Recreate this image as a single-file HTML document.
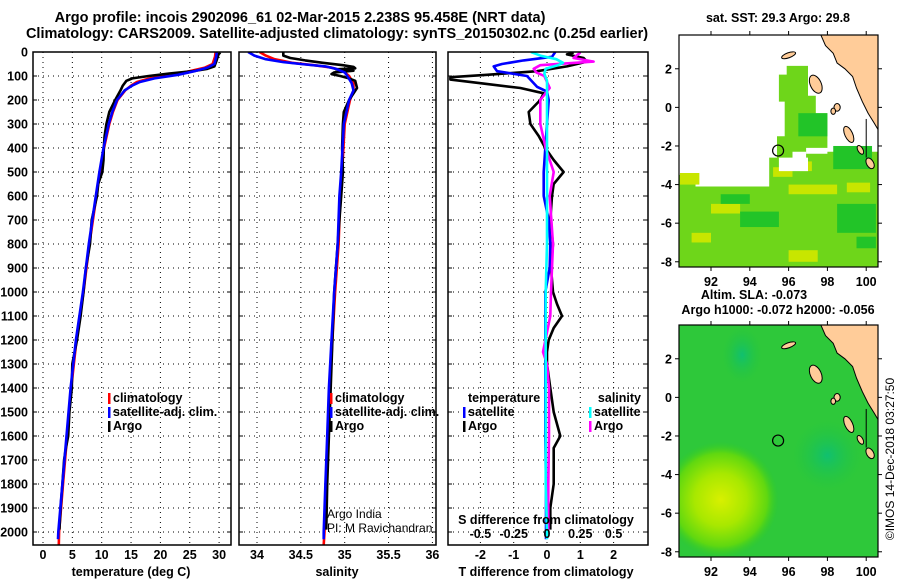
<!DOCTYPE html>
<html><head><meta charset="utf-8">
<style>
body{margin:0;background:#fff;}
svg{display:block;font-family:"Liberation Sans",sans-serif;font-weight:bold;}
</style></head>
<body>
<svg id="c" width="900" height="580" viewBox="0 0 900 580" xmlns="http://www.w3.org/2000/svg">
<defs>
<clipPath id="cp1"><rect x="33" y="52" width="198" height="493"/></clipPath>
<clipPath id="cp2"><rect x="239" y="52" width="197" height="493"/></clipPath>
<clipPath id="cp3"><rect x="448" y="52" width="200" height="493"/></clipPath>
<clipPath id="cm1"><rect x="679" y="35" width="199" height="232"/></clipPath>
<clipPath id="cm2"><rect x="679" y="325" width="199" height="232"/></clipPath>
<radialGradient id="yb" cx="0.5" cy="0.5" r="0.5">
<stop offset="0" stop-color="#d8f000"/><stop offset="0.45" stop-color="#a8e800"/><stop offset="0.8" stop-color="#60d810"/><stop offset="1" stop-color="#33cc22" stop-opacity="0"/>
</radialGradient>
<radialGradient id="tb" cx="0.5" cy="0.5" r="0.5">
<stop offset="0" stop-color="#10c070"/><stop offset="1" stop-color="#20c440" stop-opacity="0"/>
</radialGradient>
</defs>
<text x="300" y="22" text-anchor="middle" font-size="14.5">Argo profile: incois 2902096_61 02-Mar-2015 2.238S 95.458E (NRT data)</text>
<text x="337" y="38" text-anchor="middle" font-size="14.5">Climatology: CARS2009. Satellite-adjusted climatology: synTS_20150302.nc (0.25d earlier)</text>
<g id="g"></g>
</svg>
<script>
// ---- data ----
const depthTicks=[0,100,200,300,400,500,600,700,800,900,1000,1100,1200,1300,1400,1500,1600,1700,1800,1900,2000];
const tempTicks=[0,5,10,15,20,25,30];
const salTicks=[34,34.5,35,35.5,36];
const salTickLabels=["34","34.5","35","35.5","36"];
const dTTicks=[-2,-1,0,1,2];
const dSTicks=[-0.5,-0.25,0,0.25,0.5];
const dSTickLabels=["-0.5","-0.25","0","0.25","0.5"];
const lonTicks=[92,94,96,98,100];
const latTicks=[2,0,-2,-4,-6,-8];

const climT_depth=[0,20,50,65,80,95,110,125,140,160,200,250,300,400,500,600,800,1000,1200,1400,1600,1800,2000,2054];
const climT_val=[29.4,29.3,28.9,27.6,25,22,18.2,16,15,14,12.7,11.9,11.3,10.4,9.7,9.1,7.9,6.9,5.7,4.8,4.1,3.4,2.75,2.7];
const satT_depth=[0,20,50,65,80,95,110,125,140,160,200,250,300,400,500,600,800,1000,1200,1400,1600,1800,2000,2030];
const satT_val=[29.6,29.5,29.2,28,25.8,23,19,16.5,15.2,13.9,12.6,11.8,11.2,10.3,9.6,9.0,7.8,6.8,5.6,4.7,4.0,3.3,2.6,2.55];
const argoT_depth=[2,10,40,60,70,80,90,100,110,120,140,160,200,250,300,350,400,450,500,550,600,700,800,900,1000,1100,1200,1300,1400,1500,1600,1650,1700,1800,1900,1990];
const argoT_val=[30.2,29.9,29.5,29.2,28,25.5,21.5,18,15.2,14.2,13.6,13.2,12.3,11.3,10.8,10.5,10.35,10.3,10.1,9.4,9.2,8.3,8.0,7.3,6.9,6.4,5.8,5.0,4.9,4.5,4.3,3.9,3.6,3.3,3.0,2.8];

const climS_depth=[0,15,30,45,55,65,75,85,100,130,160,200,300,500,600,800,1000,1200,1400,1600,1800,2000,2054];
const climS_val=[34.03,34.1,34.2,34.4,34.65,34.85,34.95,35.0,35.05,35.1,35.1,35.06,35.0,34.97,34.95,34.93,34.89,34.86,34.83,34.81,34.79,34.77,34.76];
const satS_depth=[0,15,30,42,50,60,70,85,100,130,160,200,300,500,600,800,1000,1200,1400,1600,1800,2000,2030];
const satS_val=[33.9,33.97,34.1,34.3,34.5,34.78,34.9,35.0,35.03,35.08,35.1,35.05,34.99,34.96,34.94,34.92,34.88,34.85,34.82,34.8,34.78,34.76,34.76];
const argoS_depth=[2,15,25,35,45,55,62,68,72,78,85,92,100,110,120,150,200,250,300,400,500,600,700,800,1000,1200,1400,1600,1800,1990];
const argoS_val=[34.3,34.3,34.38,34.55,34.75,34.98,35.1,35.12,34.9,35.1,34.88,34.85,34.95,35.05,35.12,35.14,35.05,34.99,34.98,34.97,34.98,34.96,34.94,34.92,34.88,34.86,34.84,34.82,34.8,34.79];

const dTargo_depth=[2,10,25,40,60,80,95,105,115,130,150,172,200,250,300,350,400,450,500,550,600,700,800,900,1000,1050,1100,1150,1200,1250,1300,1400,1500,1600,1650,1700,1800,1900,1990];
const dTargo_val=[0.8,0.6,1.1,1.2,0.6,-0.3,-1.8,-2.9,-2.9,-2.0,-0.8,-0.1,-0.2,-0.55,-0.5,-0.25,-0.05,0.2,0.5,0.2,0.15,0.1,0.18,0.12,0.18,0.3,0.45,0.2,0.05,0.0,0.0,0.1,0.2,0.4,0.2,0.2,0.2,0.1,0.1];
const dTsat_depth=[0,20,35,50,60,80,100,145,165,200,300,400,500,600,700,800,900,1000,1100,1200,1300,1400,1600,1800,2000,2030];
const dTsat_val=[0.25,0.15,-0.7,-1.35,-1.6,-1.5,-0.6,-0.3,0,0.05,0.0,-0.05,-0.1,-0.1,0.05,0.1,0.08,-0.05,-0.05,-0.05,-0.05,-0.05,-0.05,-0.03,-0.03,-0.03];
const dSargo_depth=[2,25,40,55,70,85,100,150,200,300,400,500,600,800,1000,1100,1250,1300,1400,1600,1800,1990];
const dSargo_val=[0.25,0.2,0.35,-0.05,-0.1,-0.08,-0.02,0.02,-0.05,-0.05,-0.01,0.05,0.02,0.045,0.03,0.025,-0.03,0.0,0.015,0.015,0.01,0.01];
const dSsat_depth=[0,15,30,45,55,70,90,120,200,400,600,800,1000,1200,1400,1600,1800,2000,2030];
const dSsat_val=[-0.12,-0.05,0.07,0.12,0.08,-0.01,-0.02,0.0,0.0,0.0,0.0,0.0,-0.01,-0.01,-0.01,-0.01,-0.01,0.0,0.0];

// ---- axes ----
const yD=d=>52+d*0.24;
const xT=t=>43+t*5.87;
const xS=s=>257+(s-34)*87.7;
const xdT=t=>547+t*33.3;
const xdS=s=>547+s*133.2;
const mx=lon=>679+(lon-90.35)*19.4;
const my1=lat=>35+(3.75-lat)*19.3;
const my2=lat=>325+(3.75-lat)*19.3;

const NS="http://www.w3.org/2000/svg";
const root=document.getElementById('g');
function mk(tag,attrs,parent){const e=document.createElementNS(NS,tag);for(const k in attrs)e.setAttribute(k,attrs[k]);(parent||root).appendChild(e);return e;}
function txt(x,y,s,size,anchor,parent){const e=mk('text',{x:x,y:y,'font-size':size,'text-anchor':anchor||'middle'},parent);e.textContent=s;return e;}

function panel(x0,x1,name){
  const g=mk('g',{});
  
  
  return g;
}
function grid(g,x0,x1,xs){
  depthTicks.forEach(d=>{if(d>0){const l=mk('line',{x1:x0,x2:x1,y1:yD(d),y2:yD(d),stroke:'#000','stroke-width':1,'stroke-dasharray':'1,4'},g);}
    mk('line',{x1:x0,x2:x0+4,y1:yD(d),y2:yD(d),stroke:'#000'},g);
    mk('line',{x1:x1-4,x2:x1,y1:yD(d),y2:yD(d),stroke:'#000'},g);});
  xs.forEach(x=>{const l=mk('line',{x1:x,x2:x,y1:52,y2:545,stroke:'#000','stroke-width':1,'stroke-dasharray':'1,4'},g);});
}
function frame(g,x0,x1){const r=mk('rect',{x:x0,y:52,width:x1-x0,height:493,fill:'none',stroke:'#000','stroke-width':1.5},g);}
function line(g,ds,vs,fx,color,name,clip){
  const pts=ds.map((d,i)=>fx(vs[i]).toFixed(1)+','+yD(d).toFixed(1)).join(' ');
  const p=mk('polyline',{points:pts,fill:'none',stroke:color,'stroke-width':2.6,'stroke-linejoin':'round','clip-path':'url(#'+clip+')'},g);
  
  
}

// panel 1
const p1=panel(33,231,'temperature-panel');
grid(p1,33,231,tempTicks.map(xT));
line(p1,climT_depth,climT_val,xT,'#ff0000','climatology-temp-line','cp1');
line(p1,argoT_depth,argoT_val,xT,'#000000','argo-temp-line','cp1');
line(p1,satT_depth,satT_val,xT,'#0000ff','satellite-temp-line','cp1');
frame(p1,33,231);
depthTicks.forEach(d=>{const t=txt(28,yD(d)+4.5,String(d),12.5,'end',p1);});
tempTicks.forEach(v=>{const t=txt(xT(v),559,String(v),12.5,'middle',p1);});
{const t=txt(131,576,'temperature (deg C)',12.5,'middle',p1);}

// panel 2
const p2=panel(239,436,'salinity-panel');
grid(p2,239,436,salTicks.map(xS));
line(p2,climS_depth,climS_val,xS,'#ff0000','climatology-sal-line','cp2');
line(p2,argoS_depth,argoS_val,xS,'#000000','argo-sal-line','cp2');
line(p2,satS_depth,satS_val,xS,'#0000ff','satellite-sal-line','cp2');
frame(p2,239,436);
salTicks.forEach((v,i)=>{const t=txt(xS(v),559,salTickLabels[i],12.5,'middle',p2);});
{const t=txt(337,576,'salinity',12.5,'middle',p2);}
{const t=txt(327,518,'Argo India',12,'start',p2);t.setAttribute('font-weight','normal');
 const t2=txt(327,532,'PI: M Ravichandran',12,'start',p2);t2.setAttribute('font-weight','normal');}

function legend(g,x,y,color,label){
  const r=mk('rect',{x:x-5,y:y-9,width:2.5,height:11,fill:color},g);
  
  const t=txt(x,y,label,12.5,'start',g);
}
[['#ff0000','climatology'],['#0000ff','satellite-adj. clim.'],['#000000','Argo']].forEach((e,i)=>{legend(p1,113,402+i*14,e[0],e[1]);legend(p2,335,402+i*14,e[0],e[1]);});

// panel 3
const p3=panel(448,648,'difference-panel');
grid(p3,448,648,dTTicks.map(xdT));
line(p3,dTargo_depth,dTargo_val,xdT,'#000000','argo-temp-diff-line','cp3');
line(p3,dTsat_depth,dTsat_val,xdT,'#0000ff','satellite-temp-diff-line','cp3');
line(p3,dSargo_depth,dSargo_val,xdS,'#ff00ff','argo-sal-diff-line','cp3');
line(p3,dSsat_depth,dSsat_val,xdS,'#00ffff','satellite-sal-diff-line','cp3');
frame(p3,448,648);
{const t=txt(468,402,'temperature',12.5,'start',p3);
 const t2=txt(641,402,'salinity',12.5,'end',p3);}
legend(p3,468,416,'#0000ff','satellite');legend(p3,468,430,'#000000','Argo');
legend(p3,594,416,'#00ffff','satellite');legend(p3,594,430,'#ff00ff','Argo');
{const t=txt(546,524,'S difference from climatology',12.5,'middle',p3);}
dSTicks.forEach((v,i)=>{const t=txt(xdS(v),538,dSTickLabels[i],12.5,'middle',p3);});
dTTicks.forEach(v=>{const t=txt(xdT(v),559,String(v),12.5,'middle',p3);});
{const t=txt(546,576,'T difference from climatology',12.5,'middle',p3);}

// ---- maps ----
const sstRegion=[[90.3,-3.5],[91.2,-3.5],[91.2,-4.1],[95,-4.1],[95,-2.6],[95.4,-2.6],[95.4,-1.5],[95.8,-1.5],[95.8,0.3],[95.5,0.3],[95.5,1.7],[95.9,1.7],[95.9,2.15],[97,2.15],[97,0.6],[97.4,0.6],[97.4,-0.3],[98,-0.3],[98,-2.1],[96.9,-2.1],[96.9,-2.4],[98,-2.4],[98,-2.3],[100.7,-2.3],[100.7,-8.4],[90.3,-8.4]];
const sstHole=[[95.5,-3.3],[95.5,-2.6],[96.2,-2.6],[96.2,-2.3],[96.9,-2.3],[96.9,-2.6],[97,-2.6],[97,-3.3]];
const yellowPatches=[[90.4,-4.0,1.0,0.6],[95.2,-3.6,1.0,0.5],[96.6,-3.3,0.6,0.5],[96,-4.5,2.5,0.5],[92,-5.5,1.5,0.5],[96,-8,1.5,0.6],[99,-4.4,1.2,0.5],[91,-7,1,0.5]];
const darkPatches=[[96.5,-1.5,1.5,1.2],[98.3,-3.2,2,1.2],[98.5,-6.5,2,1.5],[92.5,-5,1.5,0.5],[93.5,-6.2,2,0.8],[99.5,-7.3,1,0.6]];
const landPoly=[[97.6,3.9],[97.9,3.2],[98.3,2.8],[98.5,2.3],[98.9,2.0],[99.3,1.6],[99.5,1.0],[99.8,0.3],[100.1,-0.3],[100.4,-0.8],[100.7,-1.3],[100.7,3.9]];
const islands=[[96.0,2.7,0.38,0.13,-20],[97.4,1.2,0.28,0.5,-25],[98.5,0.0,0.16,0.2,0],[98.3,-0.2,0.12,0.16,0],[99.1,-1.4,0.2,0.45,-25],[99.7,-2.2,0.13,0.25,-30],[100.2,-2.9,0.18,0.3,-30]];
const argoLon=95.458, argoLat=-2.238;

function pts(arr,fy){return arr.map(p=>mx(p[0]).toFixed(1)+','+fy(p[1]).toFixed(1)).join(' ');}
function mapBase(g,fy,clip){
  const lp=mk('polygon',{points:pts(landPoly,fy),fill:'#ffcc99',stroke:'#000','stroke-width':1,'clip-path':'url(#'+clip+')'},g);
  
  islands.forEach(s=>{const e=mk('ellipse',{cx:mx(s[0]),cy:fy(s[1]),rx:s[2]*19.4,ry:s[3]*19.3,fill:'#ffcc99',stroke:'#000','stroke-width':1,transform:'rotate('+s[4]+' '+mx(s[0])+' '+fy(s[1])+')'},g);});
  mk('line',{x1:mx(100),x2:mx(100),y1:fy(-0.6),y2:fy(-2.6),stroke:'#000'},g);
  const c=mk('circle',{cx:mx(argoLon),cy:fy(argoLat),r:5.5,fill:'none',stroke:'#000','stroke-width':1.2},g);
  
  const f=mk('rect',{x:679,y:fy(3.75),width:199,height:232,fill:'none',stroke:'#000','stroke-width':1.2},g);
  
  lonTicks.forEach(l=>{mk('line',{x1:mx(l),x2:mx(l),y1:fy(3.75)-4,y2:fy(3.75),stroke:'#000'},g);mk('line',{x1:mx(l),x2:mx(l),y1:fy(3.75)+232,y2:fy(3.75)+236,stroke:'#000'},g);
    const t=txt(mx(l),fy(3.75)+251,String(l),12.5,'middle',g);});
  latTicks.forEach(l=>{mk('line',{x1:675,x2:679,y1:fy(l),y2:fy(l),stroke:'#000'},g);mk('line',{x1:878,x2:882,y1:fy(l),y2:fy(l),stroke:'#000'},g);
    const t=txt(672,fy(l)+4.5,String(l),12.5,'end',g);});
}
const m1=mk('g',{});


mk('rect',{x:679,y:35,width:199,height:232,fill:'#fff'},m1);
const gm1=mk('g',{'clip-path':'url(#cm1)'},m1);
mk('polygon',{points:pts(sstRegion,my1),fill:'#6ed61a'},gm1);
yellowPatches.forEach(r=>mk('rect',{x:mx(r[0]),y:my1(r[1]+r[3]),width:r[2]*19.4,height:r[3]*19.3,fill:'#c8e600'},gm1));
darkPatches.forEach(r=>mk('rect',{x:mx(r[0]),y:my1(r[1]+r[3]),width:r[2]*19.4,height:r[3]*19.3,fill:'#22c428'},gm1));
mk('polygon',{points:pts(sstHole,my1),fill:'#fff'},gm1);
mk('rect',{x:mx(100.1),y:my1(3.3),width:12,height:14,fill:'#88dd22'},gm1);
mapBase(m1,my1,'cm1');
{const t=txt(778,22,'sat. SST: 29.3 Argo: 29.8',12.5,'middle',m1);}
const m2=mk('g',{});


const gm2=mk('g',{'clip-path':'url(#cm2)'},m2);
mk('rect',{x:679,y:325,width:199,height:232,fill:'#2ec83a'},gm2);
mk('ellipse',{cx:mx(92.5),cy:my2(-5.3),rx:58,ry:58,fill:'url(#yb)'},gm2);
mk('ellipse',{cx:mx(93.6),cy:my2(2.2),rx:20,ry:28,fill:'url(#tb)'},gm2);
mk('ellipse',{cx:mx(98),cy:my2(-3),rx:35,ry:35,fill:'url(#tb)'},gm2);
mapBase(m2,my2,'cm2');
{const t=txt(754,299,'Altim. SLA: -0.073',12.5,'middle',m2);
 const t2=txt(778,314,'Argo h1000: -0.072 h2000: -0.056',12.5,'middle',m2);}
{const t=mk('text',{x:0,y:0,'font-size':12,'font-weight':'normal','text-anchor':'middle',transform:'translate(894,459) rotate(-90)'},root);t.textContent='©IMOS 14-Dec-2018 03:27:50';
 }
</script>
</body></html>
